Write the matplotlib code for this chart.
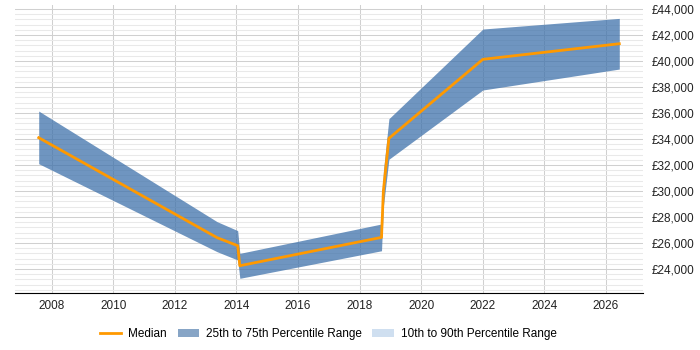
import matplotlib
matplotlib.use("Agg")
import matplotlib.pyplot as plt
from matplotlib.patches import Patch
from matplotlib.lines import Line2D
from matplotlib.ticker import MultipleLocator, FuncFormatter

plt.rcParams['font.family'] = ['Liberation Sans', 'DejaVu Sans']

# values
years = [2007.58, 2013.37, 2014.04, 2014.11, 2018.71, 2018.77, 2018.95, 2022.0, 2026.43]
median = [34100, 26410, 25790, 24250, 26430, 30000, 34050, 40130, 41330]
p25 = [32100, 25330, 24690, 23280, 25400, 28800, 32440, 37770, 39380]
p75 = [36150, 27640, 26950, 25200, 27460, 31500, 35560, 42460, 43280]

fig = plt.figure(figsize=(7, 3.5), dpi=100)
ax = fig.add_axes([15 / 700, 1 - 293 / 350, 628 / 700, 288 / 350])

ax.fill_between(years, p25, p75, color="#3f72ab", alpha=0.75, linewidth=0)
ax.plot(years, median, color="#ff9900", lw=2)

ax.set_xlim(2006.81, 2027.2)
ax.set_ylim(22150, 44310)
ax.xaxis.set_major_locator(MultipleLocator(2))
ax.yaxis.set_major_locator(MultipleLocator(2000))
ax.yaxis.set_minor_locator(MultipleLocator(400))
ax.yaxis.set_major_formatter(FuncFormatter(lambda v, p: f"£{v:,.0f}"))
ax.yaxis.tick_right()
ax.tick_params(axis="both", which="both", length=0, labelsize=8.5, colors="#222222")
ax.tick_params(axis="y", pad=6)
ax.tick_params(axis="x", pad=5)

ax.grid(True, which="major", color="#d0d0d0", lw=0.75)
ax.grid(True, which="minor", axis="y", color="#e9e9e9", lw=0.75)
ax.set_axisbelow(True)
for s in ["top", "left", "right"]:
    ax.spines[s].set_visible(False)
ax.spines["bottom"].set_color("black")

handles = [
    Line2D([], [], color="#ff9900", lw=2),
    Patch(facecolor="#87a5c6", edgecolor="none"),
    Patch(facecolor="#cfdff0", edgecolor="none"),
]
labels = ["Median", "25th to 75th Percentile Range", "10th to 90th Percentile Range"]
fig.legend(handles, labels, loc="center", bbox_to_anchor=(0.469, 0.045), ncol=3,
           frameon=False, fontsize=8.5, handlelength=1.8, columnspacing=0.9,
           handletextpad=0.6)

fig.savefig("out.png", dpi=100)
